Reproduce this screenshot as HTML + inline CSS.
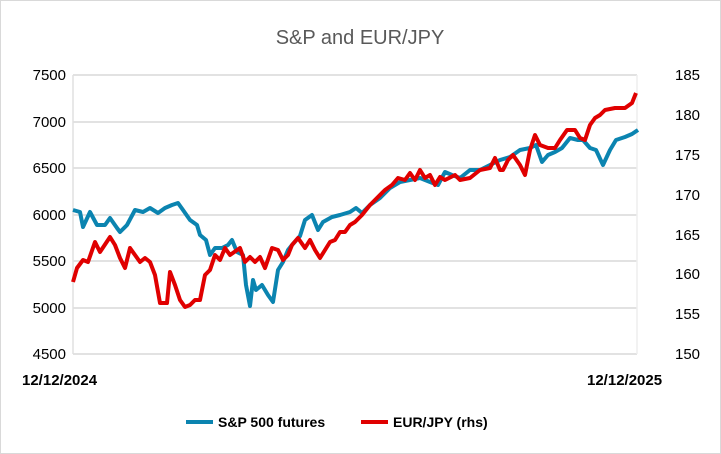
<!DOCTYPE html>
<html><head><style>
body{margin:0;background:#fff;}
svg{display:block;font-family:"Liberation Sans",sans-serif;}
</style></head><body>
<svg width="721" height="454" viewBox="0 0 721 454">
<rect x="0.5" y="0.5" width="720" height="453" fill="#fff" stroke="#d9d9d9"/>
<text x="360" y="44" text-anchor="middle" font-size="20" fill="#595959">S&amp;P and EUR/JPY</text>
<g stroke="#d0d0d0" stroke-width="1.3">
<line x1="73" x2="637" y1="75" y2="75"/><line x1="73" x2="637" y1="122" y2="122"/>
<line x1="73" x2="637" y1="168" y2="168"/><line x1="73" x2="637" y1="215" y2="215"/>
<line x1="73" x2="637" y1="261" y2="261"/><line x1="73" x2="637" y1="308" y2="308"/>
<line x1="73" x2="637" y1="354" y2="354"/>
</g>
<line x1="73" x2="73" y1="75" y2="354" stroke="#e0e0e0" stroke-width="1.5"/>
<line x1="637" x2="637" y1="75" y2="354" stroke="#eeeeee" stroke-width="1.5"/>
<g font-size="15" fill="#000" text-anchor="end">
<text x="66" y="80">7500</text><text x="66" y="127">7000</text><text x="66" y="173">6500</text>
<text x="66" y="220">6000</text><text x="66" y="266">5500</text><text x="66" y="313">5000</text>
<text x="66" y="359">4500</text>
</g>
<g font-size="15" fill="#000" text-anchor="start">
<text x="675" y="80">185</text><text x="675" y="120">180</text><text x="675" y="160">175</text>
<text x="675" y="200">170</text><text x="675" y="240">165</text><text x="675" y="279">160</text>
<text x="675" y="319">155</text><text x="675" y="359">150</text>
</g>
<g font-size="15" font-weight="bold" fill="#000">
<text x="22" y="385">12/12/2024</text><text x="587" y="385">12/12/2025</text>
</g>
<polyline fill="none" stroke="#0b84b0" stroke-width="4" stroke-linejoin="round" points="73,210 80,212 83,227 90,212 97,225 105,225 110,218 117,228 120,232 127,225 135,210 143,212 150,208 158,213 165,208 172,205 178,203 183,210 190,220 197,225 200,235 206,240 210,255 215,248 222,248 228,245 232,240 237,252 243,255 246,285 250,306 253,280 256,290 262,285 268,295 273,302 278,270 283,262 288,250 292,245 300,236 305,220 312,215 318,230 323,222 332,217 340,215 350,212 356,208 362,213 370,205 380,198 390,188 400,182 410,180 420,178 430,182 438,185 445,172 452,175 460,178 470,170 480,170 490,165 500,160 510,157 520,150 530,148 536,145 542,162 548,155 555,152 562,148 570,138 578,140 583,140 590,148 596,150 603,165 610,150 616,140 625,137 632,134 638,130"/>
<polyline fill="none" stroke="#e00000" stroke-width="4" stroke-linejoin="round" points="73,282 77,268 83,260 88,262 95,242 100,252 110,237 115,245 120,258 125,268 130,248 135,255 140,262 145,258 150,262 155,275 160,303 167,303 170,272 175,285 180,300 185,307 190,305 195,300 200,300 205,275 210,270 215,255 220,260 225,248 230,255 240,248 245,262 250,257 255,262 260,257 265,268 272,248 278,250 283,260 288,255 292,245 298,238 305,248 310,240 315,250 320,258 325,250 330,242 335,240 340,232 345,232 350,225 355,222 362,215 370,205 375,200 385,190 392,185 398,178 405,180 410,173 415,180 420,170 425,178 430,175 435,185 440,177 445,180 455,175 460,180 470,178 480,170 490,168 495,158 500,170 503,170 508,160 513,155 520,165 525,175 530,150 535,135 540,145 548,148 555,148 560,140 567,130 575,130 580,138 585,140 590,125 595,118 600,115 605,110 615,108 625,108 632,103 636,93"/>
<line x1="186" x2="213" y1="422" y2="422" stroke="#0b84b0" stroke-width="4"/>
<text x="218" y="427" font-size="14" font-weight="bold" fill="#000">S&amp;P 500 futures</text>
<line x1="361" x2="388" y1="422" y2="422" stroke="#e00000" stroke-width="4"/>
<text x="393" y="427" font-size="14" font-weight="bold" fill="#000">EUR/JPY (rhs)</text>
</svg>
</body></html>
